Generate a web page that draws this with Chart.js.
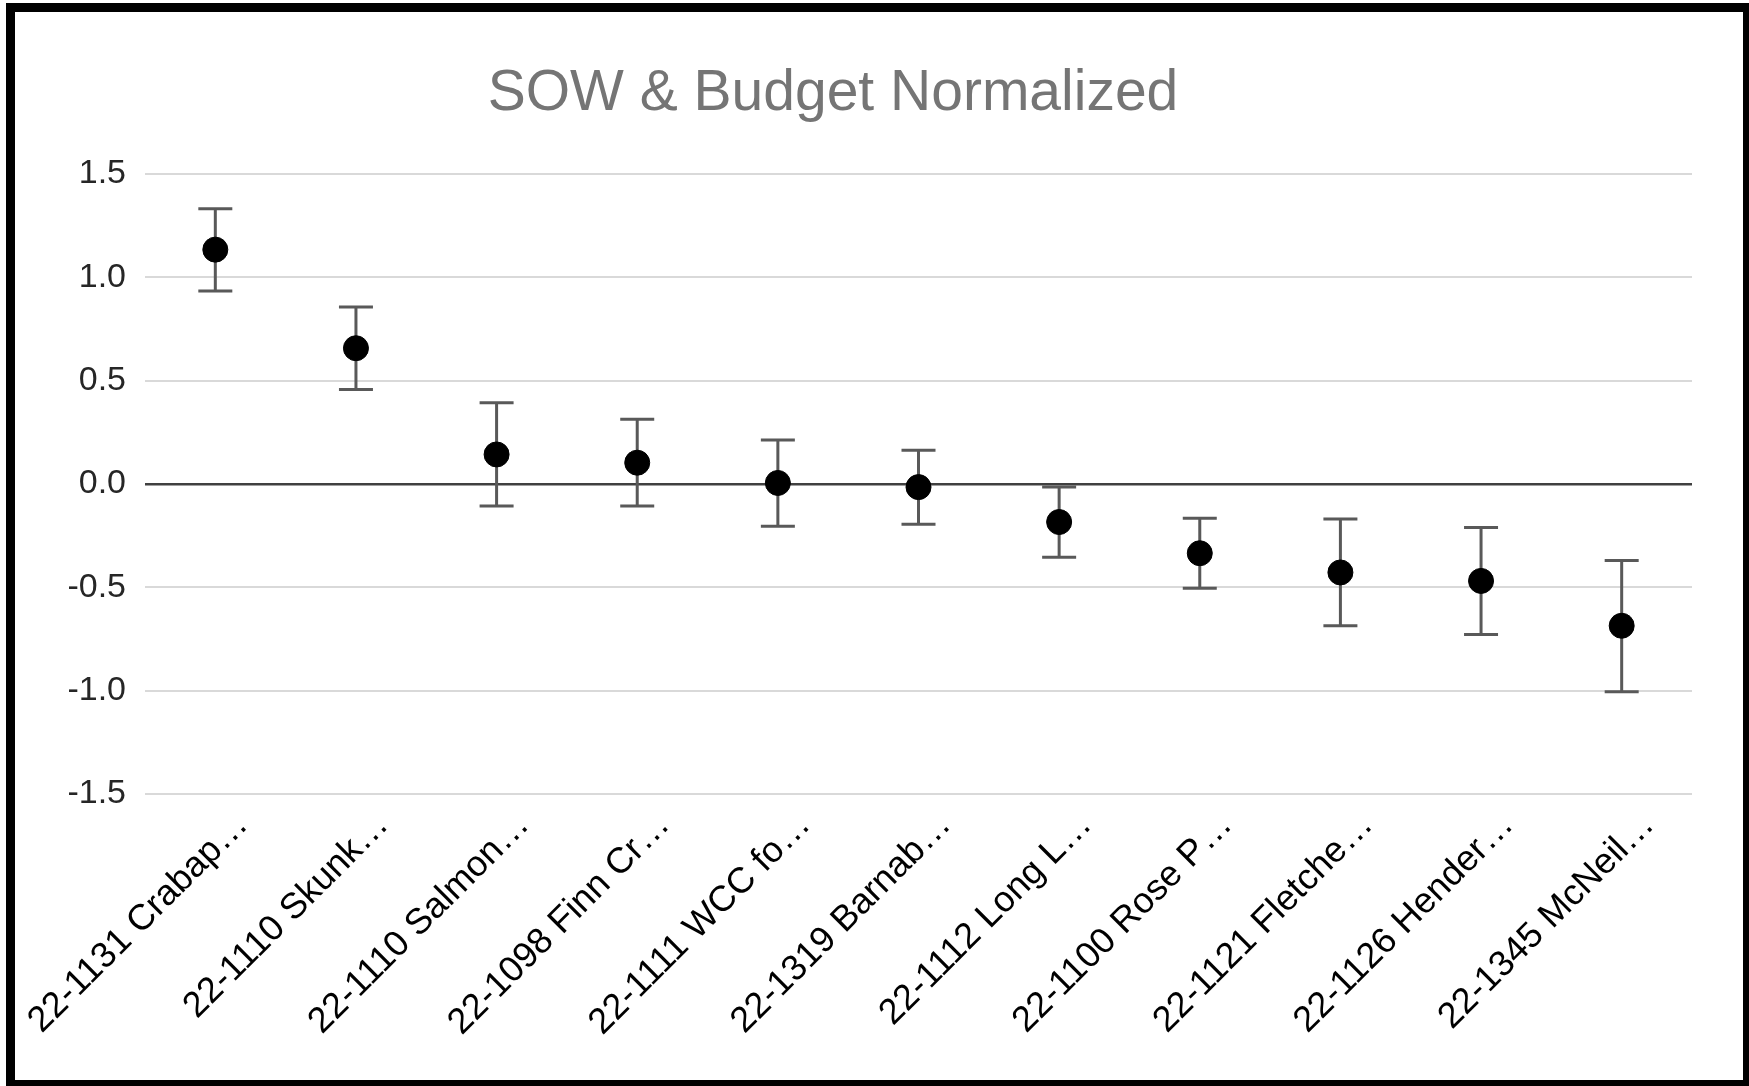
<!DOCTYPE html>
<html>
<head>
<meta charset="utf-8">
<script src="https://cdn.jsdelivr.net/npm/chart.js@4.4.1/dist/chart.umd.min.js"></script>
<style>
  html, body { margin: 0; padding: 0; background: #fff; overflow: hidden; }
  #frame { position: absolute; left: 6px; top: 3px; width: 1728px; height: 1068px; border: 9px solid #000; background: #fff; }
  #frame canvas { display: block; }
</style>
</head>
<body>
<div id="frame"><canvas id="chart"></canvas></div>
<script>
const projects = [
  "22-1131 Crabap…", "22-1110 Skunk…", "22-1110 Salmon…", "22-1098 Finn Cr…",
  "22-1111 WCC fo…", "22-1319 Barnab…", "22-1112 Long L…", "22-1100 Rose P…",
  "22-1121 Fletche…", "22-1126 Hender…", "22-1345 McNeil…"
];
const normalized = [1.134, 0.657, 0.143, 0.103, 0.005, -0.015, -0.184, -0.335, -0.428, -0.469, -0.686];
const errUp = [0.198, 0.200, 0.250, 0.210, 0.208, 0.178, 0.169, 0.169, 0.259, 0.258, 0.316];
const errDown = [0.200, 0.200, 0.249, 0.209, 0.209, 0.180, 0.170, 0.169, 0.258, 0.259, 0.319];
const yTicks = [-1.5, -1.0, -0.5, 0.0, 0.5, 1.0, 1.5];

const FONT = '"Liberation Sans", Arial, sans-serif';

// whiskers drawn under the markers, positioned through the chart's scales
const errorBars = {
  id: "errorBars",
  beforeDatasetsDraw(chart) {
    const { ctx, scales: { x, y } } = chart;
    ctx.save();
    ctx.strokeStyle = "#595959";
    ctx.lineWidth = 3;
    normalized.forEach((v, i) => {
      const px = x.getPixelForValue(i);
      const top = y.getPixelForValue(v + errUp[i]);
      const bot = y.getPixelForValue(v - errDown[i]);
      ctx.beginPath();
      ctx.moveTo(px, top); ctx.lineTo(px, bot);
      ctx.moveTo(px - 17, top); ctx.lineTo(px + 17, top);
      ctx.moveTo(px - 17, bot); ctx.lineTo(px + 17, bot);
      ctx.stroke();
    });
    ctx.restore();
  }
};

const chartTitle = {
  id: "chartTitle",
  afterDraw(chart) {
    const ctx = chart.ctx;
    ctx.save();
    ctx.font = "57px " + FONT;
    ctx.fillStyle = "#757575";
    ctx.textAlign = "center";
    ctx.textBaseline = "alphabetic";
    ctx.fillText("SOW & Budget Normalized", 818, 98);
    ctx.restore();
  }
};

new Chart(document.getElementById("chart"), {
  type: "line",
  data: {
    labels: projects,
    datasets: [{
      data: normalized,
      showLine: false,
      pointRadius: 12.5,
      pointHoverRadius: 12.5,
      pointBackgroundColor: "#000",
      pointBorderColor: "#000",
      pointBorderWidth: 1
    }]
  },
  options: {
    responsive: true,
    maintainAspectRatio: false,
    animation: false,
    layout: { padding: { top: 162, right: 51, left: 0, bottom: 0 } },
    plugins: { legend: { display: false }, tooltip: { enabled: false } },
    scales: {
      x: {
        offset: true,
        grid: { display: false },
        border: { display: false },
        afterFit: (s) => { s.height = 286; s.paddingLeft = 0; s.paddingRight = 0; },
        ticks: {
          autoSkip: false,
          maxRotation: 45,
          minRotation: 45,
          labelOffset: 27,
          padding: 2,
          color: "#000",
          font: { family: FONT, size: 36 }
        }
      },
      y: {
        min: -1.5,
        max: 1.5,
        afterFit: (s) => { s.width = 130; },
        afterBuildTicks: (s) => { s.ticks = yTicks.map((v) => ({ value: v })); },
        border: { display: false },
        grid: {
          drawTicks: false,
          color: (c) => (c.tick && c.tick.value === 0 ? "#404040" : "#d9d9d9"),
          lineWidth: (c) => (c.tick && c.tick.value === 0 ? 2.5 : 2)
        },
        ticks: {
          padding: 19,
          color: "#262626",
          font: { family: FONT, size: 34 },
          callback: (v) => Number(v).toFixed(1)
        }
      }
    }
  },
  plugins: [errorBars, chartTitle]
});
</script>
</body>
</html>
